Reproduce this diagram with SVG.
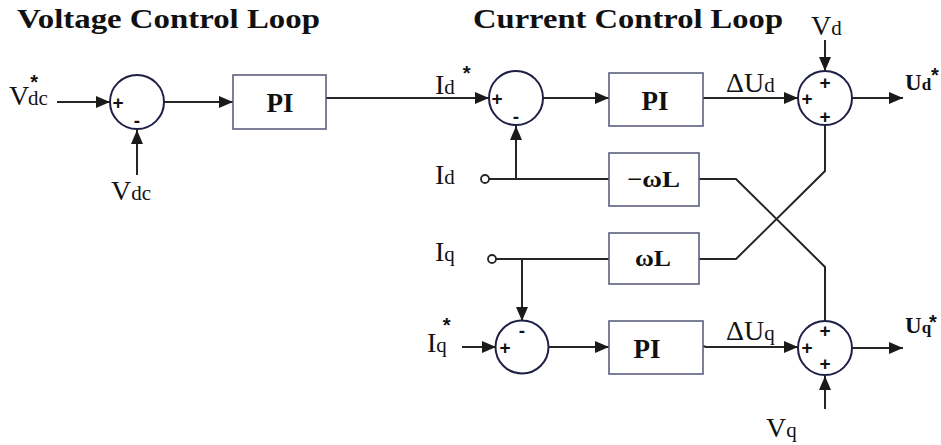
<svg xmlns="http://www.w3.org/2000/svg" width="941" height="445" viewBox="0 0 941 445">
<style>
.title{font-family:"Liberation Serif",serif;font-weight:bold;font-size:27px;fill:#111}
.lbl{font-family:"Liberation Serif",serif;font-size:28px;fill:#111}
.sub{font-size:21px}
.ast{font-family:"Liberation Sans",sans-serif;font-weight:bold;font-size:20px;fill:#111}
.blbl{font-family:"Liberation Serif",serif;font-weight:bold;font-size:23px;fill:#111}
.box{fill:#fff;stroke:#5c5f7e;stroke-width:1.6}
.sum{fill:#fff;stroke:#1d1f45;stroke-width:2}
.btxt{font-family:"Liberation Serif",serif;font-weight:bold;font-size:27px;fill:#111;text-anchor:middle}
.wtxt{font-family:"Liberation Serif",serif;font-weight:bold;font-size:23px;fill:#111}
.sign{font-family:"Liberation Sans",sans-serif;font-weight:bold;font-size:19px;fill:#111;text-anchor:middle}
.w{fill:none;stroke:#262626;stroke-width:2}
.term{fill:#fff;stroke:#262626;stroke-width:1.8}
</style>
<defs>
<marker id="ah" markerWidth="14" markerHeight="12" refX="14" refY="6" orient="auto" markerUnits="userSpaceOnUse"><path d="M0,0 L14,6 L0,12 z" fill="#1a1a1a"/></marker>
</defs>
<rect width="941" height="445" fill="#fff"/>
<text class="title" x="17" y="28" textLength="303" lengthAdjust="spacingAndGlyphs">Voltage Control Loop</text>
<text class="title" x="473" y="28" textLength="310" lengthAdjust="spacingAndGlyphs">Current Control Loop</text>

<g id="connectors">
<path class="w" d="M57,102 L110,102" marker-end="url(#ah)"/>
<path class="w" d="M137,175 L137,130" marker-end="url(#ah)"/>
<path class="w" d="M164,102 L233,102" marker-end="url(#ah)"/>
<path class="w" d="M326,98 L489,98" marker-end="url(#ah)"/>
<path class="w" d="M543,98 L609,98" marker-end="url(#ah)"/>
<path class="w" d="M703,98 L798,98" marker-end="url(#ah)"/>
<path class="w" d="M852,98 L903,98" marker-end="url(#ah)"/>
<path class="w" d="M825,40 L825,71" marker-end="url(#ah)"/>
<path class="w" d="M489,179 L609,179"/>
<path class="w" d="M516,179 L516,126" marker-end="url(#ah)"/>
<path class="w" d="M699,179 L736,179 L825,267 L825,321"/>
<path class="w" d="M496,259 L609,259"/>
<path class="w" d="M522,259 L522,321" marker-end="url(#ah)"/>
<path class="w" d="M699,259 L736,259 L825,171 L825,126"/>
<path class="w" d="M462,347 L496,347" marker-end="url(#ah)"/>
<path class="w" d="M548,347 L609,347" marker-end="url(#ah)"/>
<path class="w" d="M703,346 L706,347 L798,347" marker-end="url(#ah)"/>
<path class="w" d="M852,348 L903,348" marker-end="url(#ah)"/>
<path class="w" d="M825,409 L825,376" marker-end="url(#ah)"/>
</g>

<g id="sum-vdc"><circle class="sum" cx="137" cy="102" r="27"/><text class="sign" x="118" y="109">+</text><text class="sign" x="137" y="127">-</text></g>
<g id="pi-v"><rect class="box" x="233" y="75" width="93" height="54"/><text class="btxt" x="280" y="112" font-size="28">PI</text></g>

<g id="sum-id"><circle class="sum" cx="516" cy="98" r="27"/><text class="sign" x="497" y="105">+</text><text class="sign" x="516" y="123">-</text></g>
<g id="pi-d"><rect class="box" x="609" y="73" width="94" height="53"/><text class="btxt" x="655" y="110">PI</text></g>
<g id="sum-ud"><circle class="sum" cx="825" cy="98" r="27"/><text class="sign" x="807" y="105">+</text><text class="sign" x="825" y="89">+</text><text class="sign" x="825" y="123">+</text></g>

<g id="wl-neg"><rect class="box" x="609" y="153" width="90" height="53"/><text class="wtxt" x="627" y="187" textLength="53" lengthAdjust="spacingAndGlyphs">−ωL</text></g>
<g id="wl"><rect class="box" x="609" y="233" width="90" height="51"/><text class="wtxt" x="635" y="266" textLength="36" lengthAdjust="spacingAndGlyphs">ωL</text></g>

<g id="term-id"><circle class="term" cx="485" cy="179" r="4"/></g>
<g id="term-iq"><circle class="term" cx="492" cy="259" r="4"/></g>

<g id="sum-iq"><circle class="sum" cx="522" cy="347" r="26.5"/><text class="sign" x="505" y="354">+</text><text class="sign" x="522" y="337">-</text></g>
<g id="pi-q"><rect class="box" x="609" y="321" width="94" height="53"/><text class="btxt" x="647" y="358">PI</text></g>
<g id="sum-uq"><circle class="sum" cx="825" cy="348" r="27"/><text class="sign" x="807" y="354">+</text><text class="sign" x="825" y="337">+</text><text class="sign" x="825" y="370">+</text></g>

<g id="labels">
<text class="lbl" x="9" y="105">V<tspan class="ast" dx="1" dy="-16">*</tspan><tspan class="sub" dx="-10" dy="16">dc</tspan></text>
<text class="lbl" x="111" y="200">V<tspan class="sub">dc</tspan></text>
<text class="lbl" x="435" y="94">I<tspan class="sub">d</tspan><tspan class="ast" dx="8" dy="-14">*</tspan></text>
<text class="lbl" x="726" y="92">ΔU<tspan class="sub">d</tspan></text>
<text class="lbl" x="811" y="35">V<tspan class="sub">d</tspan></text>
<text class="blbl" x="905" y="90">U<tspan font-size="17">d</tspan><tspan class="ast" font-size="18" dy="-8">*</tspan></text>
<text class="lbl" x="435" y="184">I<tspan class="sub">d</tspan></text>
<text class="lbl" x="435" y="261">I<tspan class="sub">q</tspan></text>
<text class="lbl" x="427" y="352">I<tspan class="sub">q</tspan><tspan class="ast" dx="-4" dy="-20">*</tspan></text>
<text class="lbl" x="726" y="340">ΔU<tspan class="sub">q</tspan></text>
<text class="blbl" x="905" y="333">U<tspan font-size="17">q</tspan><tspan class="ast" font-size="18" dx="-2" dy="-4">*</tspan></text>
<text class="lbl" x="766" y="437">V<tspan class="sub">q</tspan></text>
</g>
</svg>
